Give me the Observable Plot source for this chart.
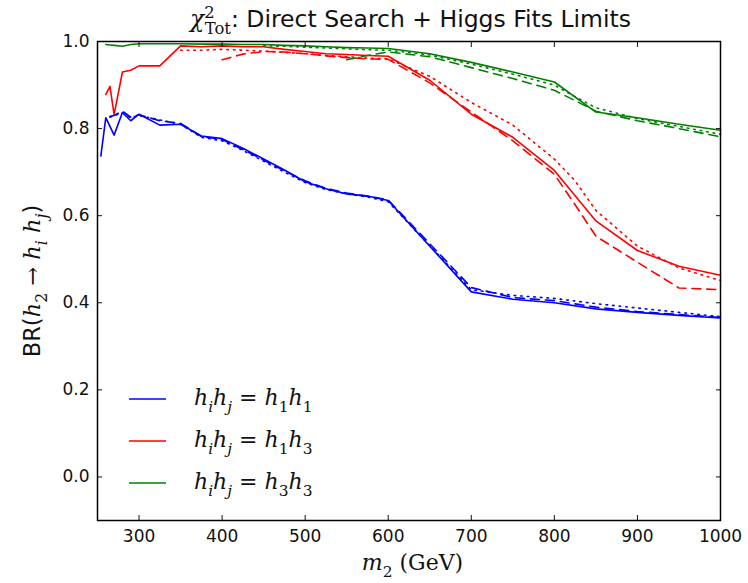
<!DOCTYPE html>
<html><head><meta charset="utf-8">
<script src="https://cdn.jsdelivr.net/npm/d3@7"></script>
<script src="https://cdn.jsdelivr.net/npm/@observablehq/plot@0.6"></script>
<style>body{margin:0;background:#fff}#chart{width:748px;height:583px}</style>
</head><body><div id="chart"></div>
<script>
// x values (m2 in GeV)
const mass = [254,260,265,270,280,290,300,325,350,375,400,425,450,475,500,525,550,575,600,650,700,750,800,825,850,900,950,1000];
// h_i h_j = h1 h1 (blue)
const blueSolid  = [0.737,0.825,null,0.785,0.837,0.818,0.833,0.808,0.810,0.783,0.777,0.755,0.730,0.705,0.678,0.662,0.650,0.645,0.635,null,0.425,0.408,0.400,null,0.386,0.378,0.371,0.365];
const blueDashed = [null,null,0.828,0.830,0.840,0.826,0.832,0.818,0.812,0.782,0.775,0.752,0.728,0.703,0.680,0.663,0.652,0.645,0.636,null,0.435,0.412,0.405,null,0.390,0.380,0.373,0.366];
const blueDotted = [null,null,0.826,0.830,0.836,0.825,0.830,0.820,0.810,0.780,0.772,0.750,0.725,0.700,0.676,0.660,0.650,0.643,0.632,null,0.430,0.417,0.410,null,0.398,0.388,0.378,0.368];
// h_i h_j = h1 h3 (red)
const redSolid   = [null,0.878,0.897,0.832,0.930,0.934,0.944,0.944,0.990,0.988,0.990,0.988,0.988,0.982,0.977,0.972,0.970,0.968,0.966,0.911,0.833,0.780,0.704,null,0.588,0.520,0.484,0.463];
const redDashed  = [null,null,null,null,null,null,null,null,null,null,0.958,0.971,0.977,0.976,0.972,0.967,0.963,0.960,0.959,0.905,0.838,0.772,0.695,0.625,0.553,0.493,0.434,0.430];
const redDotted  = [null,null,null,null,null,null,null,null,0.980,0.980,0.982,0.980,0.978,0.975,0.972,0.968,0.965,0.962,0.960,0.920,0.860,0.808,0.730,0.680,0.612,0.530,0.480,0.451];
// h_i h_j = h3 h3 (green)
const greenSolid = [null,0.993,0.992,0.991,0.989,0.993,0.995,0.995,0.995,0.994,0.994,0.993,0.993,0.991,0.990,0.988,0.986,0.985,0.984,0.972,0.952,0.930,0.907,null,0.838,0.825,0.810,0.796];
const greenDashed= [null,null,null,null,null,null,null,null,null,null,null,null,null,null,null,null,0.958,0.968,0.976,0.965,0.940,0.915,0.888,null,0.840,0.818,0.800,0.781];
const greenDotted= [null,null,null,null,null,null,null,null,null,null,null,null,0.990,0.989,0.987,0.985,0.983,0.981,0.980,0.969,0.948,0.925,0.900,0.873,0.848,0.823,0.805,0.787];

const pairs = ["h1h1","h1h3","h3h3"];
const colors = ["#0000ff","#ff0000","#008000"];
const xTicks = [300,400,500,600,700,800,900,1000];
const yTicks = [0.0,0.2,0.4,0.6,0.8,1.0];

const seriesDefs = [
  ["h1h1","solid",blueSolid],["h1h1","dashed",blueDashed],["h1h1","dotted",blueDotted],
  ["h1h3","solid",redSolid],["h1h3","dashed",redDashed],["h1h3","dotted",redDotted],
  ["h3h3","solid",greenSolid],["h3h3","dashed",greenDashed],["h3h3","dotted",greenDotted]
];
const rows = seriesDefs.flatMap(([pair, style, vals]) =>
  mass.map((m, i) => ({m, v: vals[i], pair, style})).filter(d => d.v != null));
const dashes = {solid: null, dashed: "9,6", dotted: "1.6,5"};

const W = 748, H = 583, ML = 97, MR = 28, MT = 41, MB = 63;
const tickFont = {fontSize: 17, fontFamily: "DejaVu Sans"};

const plot = Plot.plot({
  width: W, height: H,
  marginLeft: ML, marginRight: MR, marginTop: MT, marginBottom: MB,
  style: {fontFamily: "DejaVu Sans", fontSize: "17px", color: "#111", background: "#fff"},
  x: {domain: [250, 1000]},
  y: {domain: [-0.1, 1.0]},
  color: {domain: pairs, range: colors},
  marks: [
    ...["solid","dashed","dotted"].map(s => Plot.line(rows.filter(d => d.style === s), {
      x: "m", y: "v", z: "pair", stroke: "pair", strokeWidth: 1.6,
      strokeDasharray: dashes[s], curve: "linear"
    })),
    Plot.axisX({anchor: "bottom", ticks: xTicks, tickSize: -5, tickFormat: () => "", label: null}),
    Plot.axisX({anchor: "top", ticks: xTicks, tickSize: -5, tickFormat: () => "", label: null}),
    Plot.axisY({anchor: "left", ticks: yTicks, tickSize: -5, tickFormat: () => "", label: null}),
    Plot.axisY({anchor: "right", ticks: yTicks, tickSize: -5, tickFormat: () => "", label: null}),
    Plot.axisX({anchor: "bottom", ticks: xTicks, tickSize: 0, tickPadding: 9, tickFormat: d => String(d), label: null, ...tickFont}),
    Plot.axisY({anchor: "left", ticks: yTicks, tickSize: 0, tickPadding: 8, tickFormat: d => d.toFixed(1), label: null, ...tickFont}),
    Plot.frame({stroke: "#000", strokeWidth: 1.5})
  ]
});
document.getElementById("chart").appendChild(plot);

// --- text with math-like formatting ---
const svg = d3.select(plot);
const MATH = "DejaVu Serif, Liberation Serif, serif";
function mathText(sel, segs, base) {
  let shift = 0;
  segs.forEach(s => {
    const target = s.sub ? 0.3 * base : s.sup ? -0.38 * base : 0;
    const ts = sel.append("tspan").text(s.t)
      .attr("font-family", s.sans ? "DejaVu Sans" : MATH)
      .attr("font-style", s.it ? "italic" : "normal")
      .attr("font-size", s.size ? s.size : (s.sub || s.sup) ? base * 0.7 : base);
    if (target !== shift) { ts.attr("dy", target - shift); shift = target; }
    if (s.dx) ts.attr("dx", s.dx);
  });
}

// Title
const title = svg.append("text").attr("x", (ML + W - MR) / 2 + 2).attr("y", 27)
  .attr("text-anchor", "middle").attr("fill", "#111");
mathText(title, [
  {t: "χ", it: true},
  {t: "2", sup: true},
  {t: "Tot", sub: true, dx: -10},
  {t: ": Direct Search + Higgs Fits Limits", sans: true}
], 23.5);

// X label
const xl = svg.append("text").attr("x", (ML + W - MR) / 2 + 4).attr("y", 570)
  .attr("text-anchor", "middle").attr("fill", "#111");
mathText(xl, [{t: "m", it: true}, {t: "2", sub: true}, {t: " (GeV)"}], 22);

// Y label
const yl = svg.append("text").attr("transform", "translate(40,281) rotate(-90)")
  .attr("text-anchor", "middle").attr("fill", "#111");
mathText(yl, [
  {t: "BR(", sans: true},
  {t: "h", it: true}, {t: "2", sub: true},
  {t: " → "},
  {t: "h", it: true}, {t: "i", it: true, sub: true},
  {t: " h", it: true}, {t: "j", it: true, sub: true},
  {t: ")", sans: true}
], 22.5);

// Legend
const legend = [
  {pair: "h1h1", a: "1", b: "1"},
  {pair: "h1h3", a: "1", b: "3"},
  {pair: "h3h3", a: "3", b: "3"}
];
legend.forEach((d, i) => {
  const y = 399 + i * 42;
  svg.append("line").attr("x1", 129).attr("x2", 166).attr("y1", y).attr("y2", y)
    .attr("stroke", colors[pairs.indexOf(d.pair)]).attr("stroke-width", 1.6);
  const t = svg.append("text").attr("x", 194).attr("y", y + 6).attr("fill", "#111")
    .attr("text-anchor", "start");
  mathText(t, [
    {t: "h", it: true}, {t: "i", it: true, sub: true},
    {t: "h", it: true}, {t: "j", it: true, sub: true},
    {t: " = "},
    {t: "h", it: true}, {t: d.a, sub: true},
    {t: "h", it: true}, {t: d.b, sub: true}
  ], 22);
});
</script></body></html>
